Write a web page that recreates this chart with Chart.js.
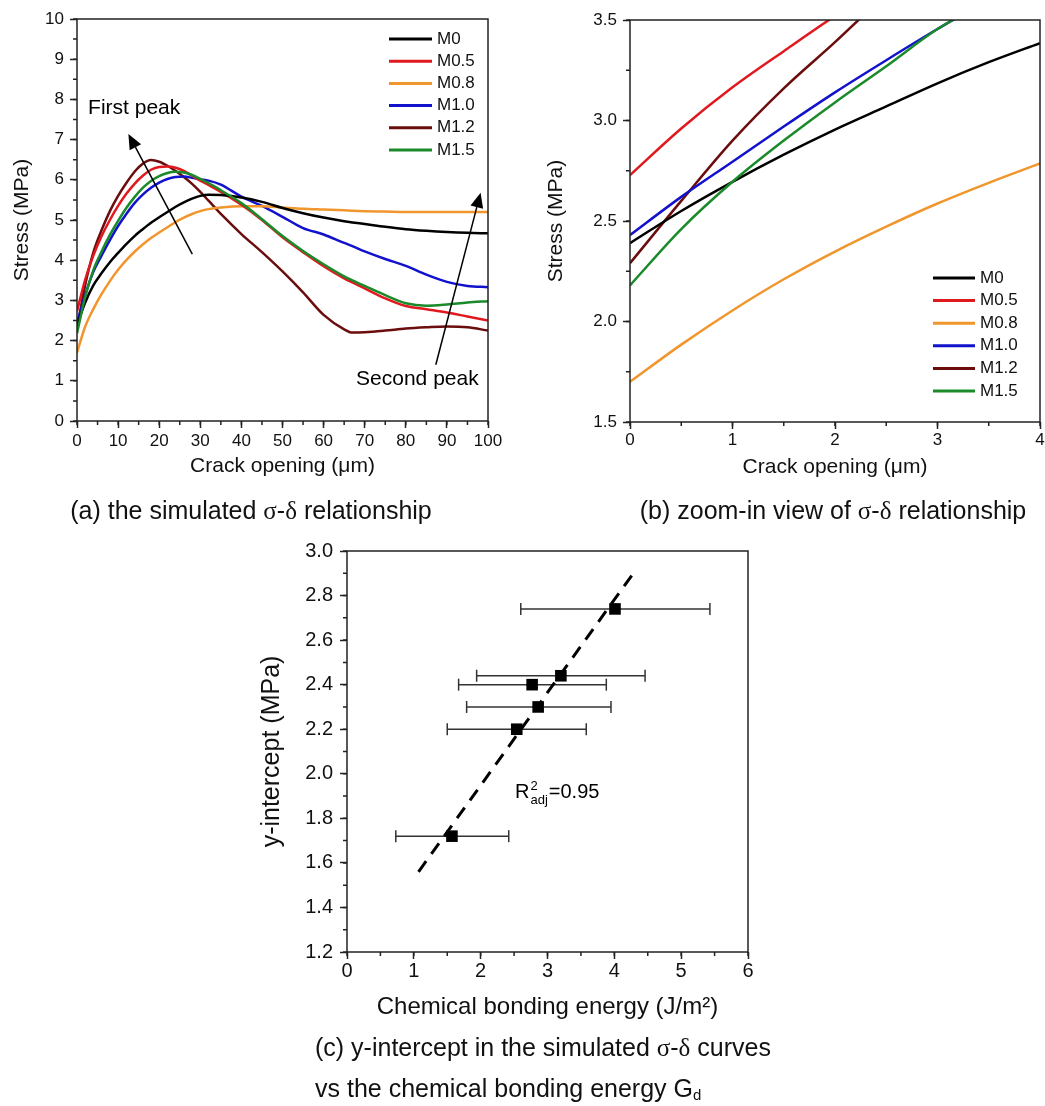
<!DOCTYPE html>
<html>
<head>
<meta charset="utf-8">
<script src="https://cdn.jsdelivr.net/npm/chart.js@4.4.1/dist/chart.umd.min.js"></script>
<style>
  body { margin: 0; background: #fff; }
  #page { position: relative; width: 1045px; height: 1106px; overflow: hidden; font-family: "Liberation Sans", Arial, sans-serif; color: #111; }
  canvas { position: absolute; left: 0; top: 0; }
  .cap { position: absolute; font-size: 25px; line-height: 30px; white-space: nowrap; }
  .cap sub { font-size: 15px; vertical-align: -3px; }
  .gr { font-family: "Liberation Serif", "DejaVu Serif", serif; }
</style>
</head>
<body>
<div id="page">
  <canvas id="chartA" width="1045" height="1106"></canvas>
  <canvas id="chartB" width="1045" height="1106"></canvas>
  <canvas id="chartC" width="1045" height="1106"></canvas>
  <div class="cap" style="left:0; width:502px; text-align:center; top:495px">(a) the simulated <span class="gr">σ</span>-<span class="gr">δ</span> relationship</div>
  <div class="cap" style="left:583px; width:500px; text-align:center; top:495px">(b) zoom-in view of <span class="gr">σ</span>-<span class="gr">δ</span> relationship</div>
  <div class="cap" style="left:315px; top:1027px; line-height:40px">(c) y-intercept in the simulated <span class="gr">σ</span>-<span class="gr">δ</span> curves<br>vs the chemical bonding energy G<sub>d</sub></div>
</div>
<script>
// (a) full sigma-delta curves
const seriesNames = ['M0', 'M0.5', 'M0.8', 'M1.0', 'M1.2', 'M1.5'];
const seriesColors = ['#000000', '#e0191f', '#f0962d', '#1212cc', '#6b0d0d', '#1a8a2a'];

const openingA = [0, 2, 4, 6, 8, 10, 12, 14, 16, 18, 20, 22, 24, 26, 28, 30, 32, 35, 40, 45, 50, 55, 60, 65, 67, 70, 75, 80, 85, 90, 95, 100];
const m0A   = [2.39, 2.95, 3.38, 3.68, 3.95, 4.18, 4.40, 4.60, 4.77, 4.93, 5.07, 5.20, 5.33, 5.44, 5.53, 5.60, 5.63, 5.62, 5.56, 5.45, 5.30, 5.17, 5.06, 4.97, 4.94, 4.90, 4.83, 4.77, 4.73, 4.70, 4.68, 4.67];
const m05A  = [2.73, 3.52, 4.12, 4.60, 5.00, 5.35, 5.65, 5.90, 6.10, 6.25, 6.32, 6.33, 6.30, 6.22, 6.10, 5.98, 5.87, 5.70, 5.38, 5.00, 4.57, 4.20, 3.85, 3.55, 3.45, 3.30, 3.05, 2.86, 2.78, 2.70, 2.60, 2.50];
const m08A  = [1.70, 2.35, 2.79, 3.16, 3.48, 3.76, 4.00, 4.21, 4.39, 4.55, 4.69, 4.82, 4.95, 5.06, 5.15, 5.22, 5.27, 5.31, 5.34, 5.34, 5.31, 5.28, 5.26, 5.24, 5.23, 5.22, 5.21, 5.20, 5.20, 5.20, 5.20, 5.20];
const m10A  = [2.43, 3.14, 3.72, 4.12, 4.50, 4.85, 5.15, 5.42, 5.63, 5.80, 5.93, 6.02, 6.07, 6.08, 6.05, 6.01, 5.98, 5.88, 5.58, 5.35, 5.08, 4.80, 4.64, 4.43, 4.35, 4.22, 4.03, 3.86, 3.64, 3.46, 3.36, 3.33];
const m12A  = [2.29, 3.39, 4.20, 4.75, 5.22, 5.60, 5.92, 6.20, 6.40, 6.49, 6.45, 6.35, 6.22, 6.07, 5.90, 5.70, 5.48, 5.15, 4.65, 4.20, 3.72, 3.20, 2.64, 2.28, 2.20, 2.21, 2.25, 2.30, 2.33, 2.35, 2.33, 2.25];
const m15A  = [2.18, 3.09, 3.76, 4.22, 4.63, 4.98, 5.30, 5.57, 5.80, 5.97, 6.09, 6.17, 6.20, 6.18, 6.12, 6.02, 5.92, 5.74, 5.42, 5.02, 4.60, 4.23, 3.90, 3.60, 3.50, 3.36, 3.13, 2.93, 2.87, 2.90, 2.95, 2.98];
const seriesA = [m0A, m05A, m08A, m10A, m12A, m15A];

// (b) zoom on the first 4 um
const openingB = [0, 0.5, 1, 1.5, 2, 2.5, 3, 3.5, 4];
const m0B  = [2.39, 2.55, 2.695, 2.83, 2.955, 3.07, 3.185, 3.29, 3.385];
const m05B = [2.728, 2.96, 3.165, 3.345, 3.52, 3.68, 3.83, 3.97, 4.10];
const m08B = [1.70, 1.885, 2.055, 2.21, 2.348, 2.472, 2.587, 2.69, 2.786];
const m10B = [2.43, 2.62, 2.795, 2.97, 3.14, 3.30, 3.455, 3.60, 3.72];
const m12B = [2.29, 2.60, 2.90, 3.16, 3.39, 3.63, 3.86, 4.05, 4.20];
const m15B = [2.18, 2.46, 2.695, 2.90, 3.09, 3.27, 3.455, 3.60, 3.76];
const seriesB = [m0B, m05B, m08B, m10B, m12B, m15B];

// (c) y-intercept vs chemical bonding energy
const bondEnergy = [4.01, 3.20, 2.77, 2.86, 2.54, 1.57];
const yIntercept = [2.74, 2.44, 2.40, 2.30, 2.20, 1.72];
const energyLow  = [2.60, 1.94, 1.67, 1.79, 1.50, 0.73];
const energyHigh = [5.43, 4.46, 3.88, 3.95, 3.58, 2.42];
const fitEnergy = [1.07, 4.32];
const fitIntercept = [1.56, 2.915];

const FONT = '"Liberation Sans", Arial, sans-serif';
Chart.defaults.font.family = FONT;
Chart.defaults.color = '#111';

// box around the plot plus minor ticks
const frame = {
  id: 'frame',
  afterDatasetsDraw(chart, args, o) {
    const {ctx, chartArea: a, scales: {x, y}} = chart;
    ctx.save();
    ctx.strokeStyle = '#222';
    ctx.lineWidth = 1.5;
    ctx.strokeRect(a.left, a.top, a.right - a.left, a.bottom - a.top);
    ctx.beginPath();
    for (let v = x.min; v <= x.max + 1e-9; v += o.xMinor) {
      const px = x.getPixelForValue(v);
      ctx.moveTo(px, a.bottom); ctx.lineTo(px, a.bottom + 4);
    }
    for (let v = y.min; v <= y.max + 1e-9; v += o.yMinor) {
      const py = y.getPixelForValue(v);
      ctx.moveTo(a.left, py); ctx.lineTo(a.left - 4, py);
    }
    ctx.stroke();
    ctx.restore();
  }
};

const boxLegend = {
  id: 'boxLegend',
  afterDraw(chart, args, o) {
    if (!o.x) return;
    const ctx = chart.ctx;
    ctx.save();
    ctx.font = '17px ' + FONT;
    ctx.textBaseline = 'middle';
    ctx.fillStyle = '#111';
    chart.data.datasets.forEach((ds, i) => {
      const y = o.y + i * o.gap;
      ctx.strokeStyle = ds.borderColor;
      ctx.lineWidth = 3;
      ctx.beginPath(); ctx.moveTo(o.x, y); ctx.lineTo(o.x + o.len, y); ctx.stroke();
      ctx.fillText(ds.label, o.x + o.len + 5, y);
    });
    ctx.restore();
  }
};

const notes = {
  id: 'notes',
  afterDatasetsDraw(chart, args, o) {
    const {ctx, scales: {x, y}} = chart;
    ctx.save();
    ctx.fillStyle = '#000';
    ctx.strokeStyle = '#000';
    (o.arrows || []).forEach(ar => {
      const x1 = x.getPixelForValue(ar.from[0]), y1 = y.getPixelForValue(ar.from[1]);
      const x2 = x.getPixelForValue(ar.to[0]), y2 = y.getPixelForValue(ar.to[1]);
      const ang = Math.atan2(y2 - y1, x2 - x1);
      const hl = 15, hw = 6.5;
      const bx = x2 - Math.cos(ang) * hl, by = y2 - Math.sin(ang) * hl;
      ctx.lineWidth = 1.5;
      ctx.beginPath(); ctx.moveTo(x1, y1); ctx.lineTo(bx, by); ctx.stroke();
      ctx.beginPath();
      ctx.moveTo(x2, y2);
      ctx.lineTo(bx - Math.sin(ang) * hw, by + Math.cos(ang) * hw);
      ctx.lineTo(bx + Math.sin(ang) * hw, by - Math.cos(ang) * hw);
      ctx.closePath(); ctx.fill();
    });
    ctx.font = '21px ' + FONT;
    ctx.textBaseline = 'middle';
    (o.labels || []).forEach(l => {
      ctx.fillText(l.text, x.getPixelForValue(l.at[0]), y.getPixelForValue(l.at[1]));
    });
    if (o.r2) {
      const px = x.getPixelForValue(o.r2.at[0]), py = y.getPixelForValue(o.r2.at[1]);
      ctx.textBaseline = 'alphabetic';
      ctx.font = '20px ' + FONT;
      ctx.fillText('R', px, py);
      const wr = ctx.measureText('R').width;
      ctx.font = '13px ' + FONT;
      ctx.fillText('2', px + wr + 1, py - 8);
      ctx.fillText('adj', px + wr + 1, py + 6);
      const wa = ctx.measureText('adj').width;
      ctx.font = '20px ' + FONT;
      ctx.fillText('=' + o.r2.text, px + wr + 2 + wa, py);
    }
    ctx.restore();
  }
};

function axis(opts) {
  return {
    type: 'linear',
    min: opts.min, max: opts.max,
    ticks: {
      stepSize: opts.step, autoSkip: false, maxRotation: 0,
      font: {size: opts.tickSize}, color: '#111', padding: opts.pad,
      callback: v => opts.digits ? v.toFixed(opts.digits) : String(Math.round(v))
    },
    grid: {drawOnChartArea: false, drawTicks: true, tickLength: 7, tickColor: '#222', tickWidth: 1.5},
    border: {display: false},
    title: {display: true, text: opts.title, color: '#111', font: {size: opts.titleSize}, padding: opts.titlePad},
    afterFit: s => {
      if (opts.width) s.width = opts.width;
      if (opts.height) s.height = opts.height;
      s.paddingLeft = 0; s.paddingRight = 0; s.paddingTop = 0; s.paddingBottom = 0;
    }
  };
}

function curveSets(xs, ys) {
  return ys.map((vals, i) => ({
    label: seriesNames[i],
    data: xs.map((x, j) => ({x: x, y: vals[j]})),
    borderColor: seriesColors[i],
    borderWidth: 2.5,
    pointRadius: 0,
    cubicInterpolationMode: 'monotone',
    order: seriesNames[i] === 'M1.5' ? 0 : 1
  }));
}

new Chart(document.getElementById('chartA'), {
  type: 'line',
  data: {datasets: curveSets(openingA, seriesA)},
  options: {
    responsive: false, animation: false, events: [],
    layout: {padding: {left: 7, top: 19, right: 557, bottom: 625}},
    scales: {
      x: axis({min: 0, max: 100, step: 10, tickSize: 17, pad: 3, title: 'Crack opening (μm)', titleSize: 21, titlePad: {top: 0, bottom: 2.4}, height: 60}),
      y: axis({min: 0, max: 10, step: 1, tickSize: 17, pad: 6, title: 'Stress (MPa)', titleSize: 21, titlePad: {top: 2.4, bottom: 0}, width: 70})
    },
    plugins: {
      legend: {display: false}, tooltip: {enabled: false},
      frame: {xMinor: 5, yMinor: 0.5},
      boxLegend: {x: 389, y: 39, gap: 22.2, len: 43},
      notes: {
        arrows: [{from: [28.05, 4.15], to: [12.5, 7.14]}, {from: [87.3, 1.4], to: [98.2, 5.68]}],
        labels: [{text: 'First peak', at: [2.7, 7.77]}, {text: 'Second peak', at: [67.9, 1.04]}]
      }
    }
  },
  plugins: [frame, boxLegend, notes]
});

new Chart(document.getElementById('chartB'), {
  type: 'line',
  data: {datasets: curveSets(openingB, seriesB)},
  options: {
    responsive: false, animation: false, events: [],
    layout: {padding: {left: 542, top: 20, right: 5, bottom: 624}},
    scales: {
      x: axis({min: 0, max: 4, step: 1, tickSize: 17, pad: 1.5, title: 'Crack opening (μm)', titleSize: 21, titlePad: {top: 0, bottom: 2.4}, height: 60}),
      y: axis({min: 1.5, max: 3.5, step: 0.5, digits: 1, tickSize: 17, pad: 6, title: 'Stress (MPa)', titleSize: 21, titlePad: {top: 1.4, bottom: 0}, width: 88})
    },
    plugins: {
      legend: {display: false}, tooltip: {enabled: false},
      frame: {xMinor: 0.5, yMinor: 0.25},
      boxLegend: {x: 933, y: 278, gap: 22.6, len: 42},
      notes: {}
    }
  },
  plugins: [frame, boxLegend, notes]
});

const errorSets = bondEnergy.map((e, i) => ({
  data: [{x: energyLow[i], y: yIntercept[i]}, {x: energyHigh[i], y: yIntercept[i]}],
  borderColor: '#333', borderWidth: 1.5,
  pointStyle: 'line', pointRotation: 90, pointRadius: 6,
  pointBorderColor: '#333', pointBorderWidth: 1.5,
  order: 3
}));

new Chart(document.getElementById('chartC'), {
  type: 'line',
  data: {
    datasets: errorSets.concat([
      {
        data: fitEnergy.map((e, i) => ({x: e, y: fitIntercept[i]})),
        borderColor: '#000', borderWidth: 3, borderDash: [13, 9], pointRadius: 0, order: 2
      },
      {
        data: bondEnergy.map((e, i) => ({x: e, y: yIntercept[i]})),
        showLine: false, pointStyle: 'rect', pointRadius: 8.2,
        pointBackgroundColor: '#000', pointBorderWidth: 0, order: 1
      }
    ])
  },
  options: {
    responsive: false, animation: false, events: [],
    layout: {padding: {left: 255, top: 551, right: 297, bottom: 82}},
    scales: {
      x: axis({min: 0, max: 6, step: 1, tickSize: 20, pad: 0, title: 'Chemical bonding energy (J/m²)', titleSize: 24, titlePad: {top: 0, bottom: 2.6}, height: 72}),
      y: axis({min: 1.2, max: 3.0, step: 0.2, digits: 1, tickSize: 20, pad: 7, title: 'y-intercept (MPa)', titleSize: 25, titlePad: {top: 1.7, bottom: 0}, width: 92})
    },
    plugins: {
      legend: {display: false}, tooltip: {enabled: false},
      frame: {xMinor: 0.5, yMinor: 0.1},
      boxLegend: {},
      notes: {r2: {text: '0.95', at: [2.514, 1.893]}}
    }
  },
  plugins: [frame, boxLegend, notes]
});
</script>
</body>
</html>
